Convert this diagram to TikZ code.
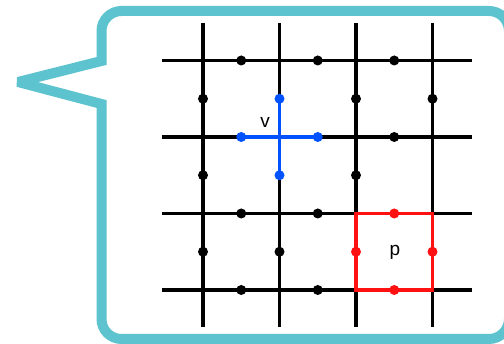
\documentclass[tikz,border=0pt]{standalone}
\usepackage{fontspec}
\setmainfont{Liberation Sans}
\definecolor{bubblecol}{RGB}{93,195,206}
\definecolor{vblue}{RGB}{0,82,255}
\definecolor{pred}{RGB}{255,17,17}
\begin{document}
\begin{tikzpicture}[x=1pt,y=1pt,
  gridline/.style={line width=3.2pt,black},
  starline/.style={line width=3.2pt,vblue},
  plaqline/.style={line width=3.2pt,pred},
  qubit/.style={circle,fill=black,inner sep=0pt,minimum size=10pt},
  bqubit/.style={qubit,fill=vblue},
  rqubit/.style={qubit,fill=pred},
  bubbleline/.style={draw=bubblecol,line width=10pt,fill=white,line join=miter,miter limit=3},
  lbl/.style={font=\fontsize{19}{19}\selectfont,inner sep=0pt,anchor=base}]
\useasboundingbox (0,0) rectangle (504,344);
% speech bubble
\coordinate (ba) at (101.5,283);
\coordinate (tip) at (18,262);
\coordinate (bb) at (101.5,240);
\draw[bubbleline] (ba) -- (tip) -- (bb) -- (101.5,25)
  arc[start angle=180,end angle=270,radius=20] -- (489,5)
  arc[start angle=270,end angle=360,radius=20] -- (509,313)
  arc[start angle=0,end angle=90,radius=20] -- (121.5,333)
  arc[start angle=90,end angle=180,radius=20] -- cycle;
% grid coordinates
\foreach \c in {0,...,3}{
  \pgfmathsetmacro\xx{203+76.5*\c}
  \coordinate (vt\c) at (\xx,321);
  \coordinate (vb\c) at (\xx,17);
  \foreach \r in {0,...,3}{
    \pgfmathsetmacro\yy{283.5-76.5*\r}
    \coordinate (g\c\r) at (\xx,\yy);
  }
}
\foreach \r in {0,...,3}{
  \pgfmathsetmacro\yy{283.5-76.5*\r}
  \coordinate (hl\r) at (162,\yy);
  \coordinate (hr\r) at (472,\yy);
}
% grid lines
\foreach \c in {0,...,3}{ \draw[gridline] (vt\c) -- (vb\c); }
\foreach \r in {0,...,3}{ \draw[gridline] (hl\r) -- (hr\r); }
% edge midpoints
\foreach \i in {0,1,2}{
  \foreach \r in {0,...,3}{
    \pgfmathsetmacro\xx{241.25+76.5*\i}
    \pgfmathsetmacro\yy{283.5-76.5*\r}
    \coordinate (h\i\r) at (\xx,\yy);
  }
}
\foreach \c in {0,...,3}{
  \foreach \j in {0,1,2}{
    \pgfmathsetmacro\xx{203+76.5*\c}
    \pgfmathsetmacro\yy{245.25-76.5*\j}
    \coordinate (v\c\j) at (\xx,\yy);
  }
}
% vertex star and plaquette
\draw[starline] (h01) -- (h11);
\draw[starline] (v10) -- (v11);
\draw[plaqline] (g22) rectangle (g33);
% qubits
\foreach \p in {00,10,20,21,02,12,03,13}{ \node[qubit] (qh\p) at (h\p) {}; }
\foreach \p in {00,01,02,12,20,21,30}{ \node[qubit] (qv\p) at (v\p) {}; }
\foreach \p in {01,11}{ \node[bqubit] (qh\p) at (h\p) {}; }
\foreach \p in {10,11}{ \node[bqubit] (qv\p) at (v\p) {}; }
\foreach \p in {22,23}{ \node[rqubit] (qh\p) at (h\p) {}; }
\foreach \p in {22,32}{ \node[rqubit] (qv\p) at (v\p) {}; }
% labels
\node[lbl] (vlabel) at (265,216) {v};
\node[lbl] (plabel) at (395,88) {p};
\end{tikzpicture}
\end{document}
